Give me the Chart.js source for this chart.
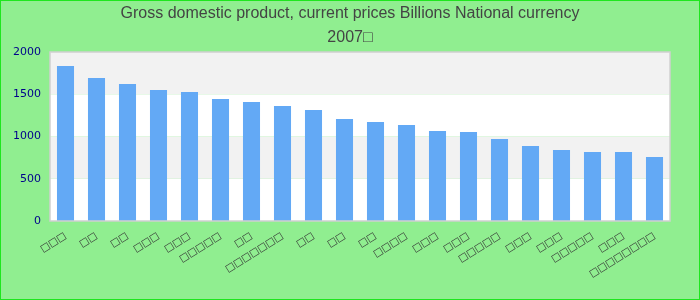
<!DOCTYPE html>
<html>
<head>
<meta charset="utf-8">
<script src="https://cdn.jsdelivr.net/npm/chart.js@4"></script>
<style>
  body { margin: 0; }
  #wrap { width: 700px; height: 300px; box-sizing: border-box; border: 1px solid #1ee61e; background: #90ee90; position: relative; }
</style>
</head>
<body>
<div id="wrap"><canvas id="gdpChart"></canvas></div>
<script>
// labels show as missing-glyph boxes in the source picture
const categories = ['□□□', '□□', '□□', '□□□', '□□□', '□□□□□', '□□', '□□□□□□□', '□□', '□□',
  '□□', '□□□□', '□□□', '□□□', '□□□□□', '□□□', '□□□', '□□□□□', '□□□', '□□□□□□□□'];
const gdpValues = [1834, 1692, 1621, 1550, 1527, 1444, 1408, 1361, 1314, 1207,
  1172, 1136, 1065, 1053, 970, 888, 840, 817, 817, 757];
const yTicks = [0, 500, 1000, 1500, 2000];
const titleLines = ['Gross domestic product, current prices Billions National currency', '2007□'];

// alternating bands + frame around the plot area
const bandsPlugin = {
  id: 'bands',
  beforeDraw(chart) {
    const { ctx, chartArea, scales } = chart;
    const y = scales.y;
    ctx.save();
    for (let i = 0; i < yTicks.length - 1; i++) {
      const top = y.getPixelForValue(yTicks[i + 1]);
      const bottom = y.getPixelForValue(yTicks[i]);
      ctx.fillStyle = i % 2 === 0 ? '#ffffff' : '#f2f2f2';
      ctx.fillRect(chartArea.left, top, chartArea.right - chartArea.left, bottom - top);
    }
    ctx.restore();
  },
  afterDatasetsDraw(chart) {
    const { ctx, chartArea } = chart;
    ctx.save();
    ctx.strokeStyle = '#d0d0d0';
    ctx.lineWidth = 1.5;
    ctx.strokeRect(chartArea.left, chartArea.top, chartArea.right - chartArea.left, chartArea.bottom - chartArea.top);
    ctx.restore();
  }
};

const ctx = document.getElementById('gdpChart').getContext('2d');
new Chart(ctx, {
  type: 'bar',
  data: {
    labels: categories,
    datasets: [{
      label: 'GDP',
      data: gdpValues,
      backgroundColor: '#63a9f5',
      barPercentage: 0.55,
      categoryPercentage: 1.0
    }]
  },
  options: {
    responsive: true,
    maintainAspectRatio: false,
    animation: false,
    layout: { padding: 0 },
    plugins: {
      legend: { display: false },
      tooltip: { enabled: false },
      title: {
        display: true,
        text: titleLines,
        color: '#444444',
        font: { family: 'Liberation Sans', size: 16, weight: 'normal', lineHeight: 1.5 },
        padding: { top: 1, bottom: 2 }
      }
    },
    scales: {
      x: {
        grid: { display: false, drawTicks: false },
        border: { display: false },
        ticks: {
          color: '#333333',
          font: { family: 'DejaVu Sans', size: 10 },
          minRotation: 32,
          maxRotation: 32,
          autoSkip: false,
          padding: 9
        },
        afterFit(scale) { scale.height = 78; }
      },
      y: {
        min: 0,
        max: 2000,
        grid: { display: false, drawTicks: false },
        border: { display: false },
        afterBuildTicks(scale) { scale.ticks = yTicks.map(v => ({ value: v })); },
        ticks: {
          color: '#00008b',
          font: { family: 'DejaVu Sans', size: 11 },
          padding: 9,
          callback: (v) => String(v)
        },
        afterFit(scale) { scale.width = 49; }
      },
      // empty right-hand strip so the title stays centred on the whole canvas
      yRight: {
        position: 'right',
        display: true,
        grid: { display: false, drawTicks: false },
        border: { display: false },
        ticks: { display: false },
        afterFit(scale) { scale.width = 29; }
      }
    }
  },
  plugins: [bandsPlugin]
});
</script>
</body>
</html>
